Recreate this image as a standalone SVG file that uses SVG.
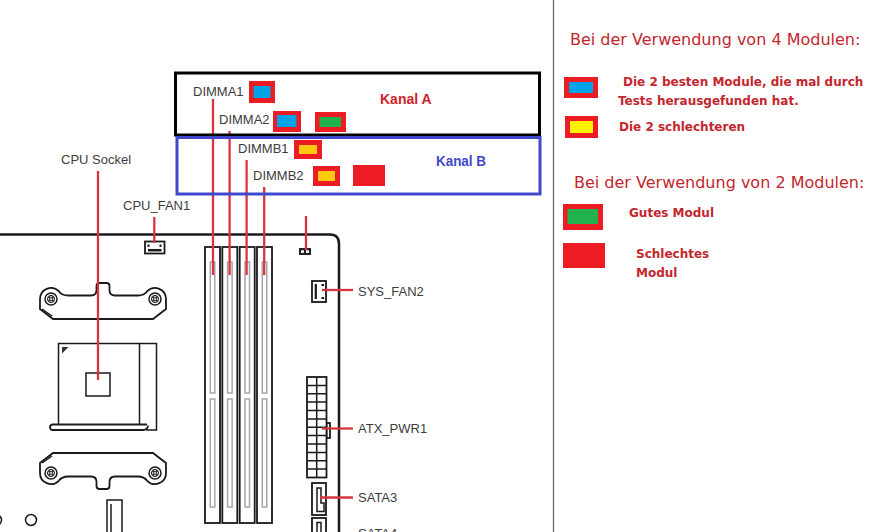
<svg xmlns="http://www.w3.org/2000/svg" width="880" height="532" viewBox="0 0 880 532">
<defs>
<style>
.bd{fill:none;stroke:#1a1a1a;stroke-width:2.5}
.ol{fill:#fff;stroke:#1a1a1a;stroke-width:1.8}
.thin{fill:none;stroke:#1a1a1a;stroke-width:1.5}
.slotin{fill:#fff;stroke:#a6a6a6;stroke-width:1.5}
.ld{fill:none;stroke:#d8343f;stroke-width:2.3}
.lbl{font-family:"Liberation Sans",Arial,sans-serif;font-size:13px;fill:#3c3c3c}
.kan{font-family:"Liberation Sans",Arial,sans-serif;font-size:14px;font-weight:bold}
.hd{font-family:"DejaVu Sans",sans-serif;font-size:16px;fill:#c4262e}
.bt{font-family:"DejaVu Sans",sans-serif;font-size:12px;font-weight:bold;fill:#c4262e}
.rb{fill:#ed1c24}
.bl{fill:#00a2e8}
.gr{fill:#22b14c}
.ye{fill:#ffc90e}
.ye2{fill:#fff200}
</style>
<g id="screw">
<circle r="6" fill="#fff" stroke="#1a1a1a" stroke-width="1.5"/>
<circle r="3.6" fill="none" stroke="#1a1a1a" stroke-width="1"/>
<path d="M-1.3,-3 V3 M1.3,-3 V3 M-3,-1.3 H3 M-3,1.3 H3" stroke="#1a1a1a" stroke-width="0.9"/>
</g>
<g id="bracket">
<path class="ol" d="M40,309 L40,299 A11,11 0 0 1 58.8,291.2 Q62,295.5 68,295.5 L91,295.5 Q96.5,295.5 96.5,290 L96.5,286 Q96.5,283 99.5,283 L106.5,283 Q109.5,283 109.5,286 L109.5,290 Q109.5,295.5 115,295.5 L138,295.5 Q144,295.5 147.2,291.2 A11,11 0 0 1 166,299 L166,309 L153,319 L53,319 Z"/>
<path class="thin" d="M42,309 L52,316" stroke-width="1"/>
<use href="#screw" x="51" y="299"/>
<use href="#screw" x="155" y="299"/>
</g>
</defs>
<rect width="880" height="532" fill="#fff"/>

<line x1="553.5" y1="0" x2="553.5" y2="532" stroke="#6a6a6a" stroke-width="1.3"/>

<g id="board">
<path class="bd" d="M0,234.5 H330 Q339,234.5 339,244 V532"/>
</g>

<g id="cpu-socket">
<use href="#bracket"/>
<use href="#bracket" transform="translate(0,772) scale(1,-1)"/>
<path class="thin" stroke-width="1.8" d="M58.5,425 V343.5 H156.5 V430 H146"/>
<line class="thin" x1="139.5" y1="343.5" x2="139.5" y2="425"/>
<path class="ol" stroke-width="1.5" d="M147,424.5 H53 Q50,424.5 50,427.2 Q50,430 53,430 H144 Q148,429 148,425.5"/>
<path d="M62,347 L68.5,347 L62,353.5 Z" fill="#333"/>
<rect class="thin" x="86" y="373" width="24" height="23" fill="#fff"/>
</g>

<g id="misc-bottom">
<circle cx="31" cy="520" r="5.5" class="thin"/>
<circle cx="-4" cy="520" r="5.5" class="thin"/>
<rect class="thin" x="107" y="500" width="15" height="40"/>
<line class="thin" x1="111" y1="504" x2="111" y2="532"/>
</g>

<g id="dimm-slots">
<rect class="ol" x="205" y="247" width="15" height="276"/>
<rect class="ol" x="222.3" y="247" width="15" height="276"/>
<rect class="ol" x="239.7" y="247" width="15" height="276"/>
<rect class="ol" x="257" y="247" width="15" height="276"/>
<rect class="slotin" x="210.3" y="262" width="4.5" height="131"/>
<rect class="slotin" x="210.3" y="399" width="4.5" height="108"/>
<rect class="slotin" x="227.6" y="262" width="4.5" height="131"/>
<rect class="slotin" x="227.6" y="399" width="4.5" height="108"/>
<rect class="slotin" x="245" y="262" width="4.5" height="131"/>
<rect class="slotin" x="245" y="399" width="4.5" height="108"/>
<rect class="slotin" x="262.3" y="262" width="4.5" height="131"/>
<rect class="slotin" x="262.3" y="399" width="4.5" height="108"/>
</g>

<g id="cpu-fan1">
<rect class="ol" x="145" y="241.5" width="19.5" height="12" stroke-width="2"/>
<line x1="148" y1="250.2" x2="161.5" y2="250.2" stroke="#1a1a1a" stroke-width="2.5"/>
<rect x="147.5" y="244.5" width="2" height="2.5" fill="#1a1a1a"/>
<rect x="159.5" y="244.5" width="2" height="2.5" fill="#1a1a1a"/>
</g>

<g id="jumper">
<rect x="299" y="248" width="12" height="7" fill="#222"/>
<rect x="301" y="250.3" width="3" height="2.6" fill="#fff"/>
<rect x="306" y="250.3" width="3" height="2.6" fill="#fff"/>
</g>

<g id="sys-fan2">
<rect class="ol" x="312" y="281" width="14" height="21" stroke-width="2"/>
<line x1="315.8" y1="284" x2="315.8" y2="299" stroke="#1a1a1a" stroke-width="2.2"/>
<rect x="321.5" y="284" width="2.5" height="2" fill="#1a1a1a"/>
<rect x="321.5" y="297" width="2.5" height="2" fill="#1a1a1a"/>
</g>

<g id="atx-pwr1">
<rect class="ol" x="326.5" y="423" width="3.5" height="15" stroke-width="1.5"/>
<rect class="ol" x="307" y="377" width="19.5" height="100.5" stroke-width="1.8"/>
<path class="thin" d="M316.7,377 V477.5 M307,385.4 H326.5 M307,393.75 H326.5 M307,402.1 H326.5 M307,410.5 H326.5 M307,418.9 H326.5 M307,427.25 H326.5 M307,435.6 H326.5 M307,444 H326.5 M307,452.4 H326.5 M307,460.75 H326.5 M307,469.1 H326.5"/>
</g>

<g id="sata3">
<rect class="ol" x="312" y="483" width="14" height="32" stroke-width="2"/>
<path class="thin" d="M317,488 H321 V503 H324 V511.5 H317 Z"/>
</g>
<g id="sata4">
<rect class="ol" x="312" y="518" width="14" height="30" stroke-width="2"/>
<path class="thin" d="M317,522.5 H321 V540 H317 Z"/>
</g>

<g id="connectors">
<line class="ld" x1="213" y1="99" x2="213" y2="275"/>
<line class="ld" x1="229.6" y1="131" x2="229.6" y2="275"/>
<line class="ld" x1="246.6" y1="160" x2="246.6" y2="275"/>
<line class="ld" x1="264.2" y1="187" x2="264.2" y2="275"/>
<line class="ld" x1="98" y1="171" x2="98" y2="380"/>
<line class="ld" x1="154.3" y1="217" x2="154.3" y2="243"/>
<line class="ld" x1="306" y1="216" x2="306" y2="250"/>
<line class="ld" x1="322" y1="290" x2="353" y2="290"/>
<line class="ld" x1="322" y1="428.5" x2="353" y2="428.5"/>
<line class="ld" x1="320" y1="497.5" x2="353" y2="497.5"/>
</g>

<g id="labels">
<text class="lbl" x="61" y="164">CPU Sockel</text>
<text class="lbl" x="123" y="210">CPU_FAN1</text>
<text class="lbl" x="193" y="96">DIMMA1</text>
<text class="lbl" x="219" y="124">DIMMA2</text>
<text class="lbl" x="238" y="153">DIMMB1</text>
<text class="lbl" x="253" y="180">DIMMB2</text>
<text class="lbl" x="358" y="296">SYS_FAN2</text>
<text class="lbl" x="358" y="433">ATX_PWR1</text>
<text class="lbl" x="358" y="502">SATA3</text>
<text class="lbl" x="358" y="537.5">SATA4</text>
</g>

<g id="kanal-a">
<rect x="175.5" y="73" width="364" height="62" fill="none" stroke="#000" stroke-width="3"/>
<text class="kan" x="380" y="104" fill="#d0232b">Kanal A</text>
</g>
<g id="kanal-b">
<rect x="177" y="137.5" width="363" height="56.5" fill="none" stroke="#3f48cc" stroke-width="3"/>
<text class="kan" x="436" y="166" fill="#3f48cc" textLength="50" lengthAdjust="spacingAndGlyphs">Kanal B</text>
</g>

<g id="modules">
<rect class="rb" x="249" y="81" width="26" height="22"/>
<rect class="bl" x="253.5" y="86" width="17" height="12"/>
<rect class="rb" x="273" y="111" width="28" height="21"/>
<rect class="bl" x="277" y="115" width="19.5" height="12"/>
<rect class="rb" x="315" y="112" width="31" height="20"/>
<rect class="gr" x="319.5" y="117" width="21.5" height="10"/>
<rect class="rb" x="294" y="140" width="28" height="19"/>
<rect class="ye" x="299" y="145" width="18" height="9"/>
<rect class="rb" x="313" y="166" width="27" height="20"/>
<rect class="ye" x="318" y="171" width="17" height="10"/>
<rect class="rb" x="353" y="165" width="32" height="21"/>
</g>

<g id="legend">
<text class="hd" x="570" y="45">Bei der Verwendung von 4 Modulen:</text>
<rect class="rb" x="564" y="77" width="34" height="21"/>
<rect class="bl" x="569" y="82" width="24" height="11"/>
<text class="bt" x="623" y="86">Die 2 besten Module, die mal durch</text>
<text class="bt" x="618" y="105">Tests herausgefunden hat.</text>
<rect class="rb" x="565" y="116" width="33" height="22"/>
<rect class="ye2" x="570" y="121" width="23" height="12"/>
<text class="bt" x="619" y="131">Die 2 schlechteren</text>
<text class="hd" x="574" y="188">Bei der Verwendung von 2 Modulen:</text>
<rect class="rb" x="563" y="204" width="40" height="26"/>
<rect class="gr" x="567.5" y="209" width="30.5" height="15"/>
<text class="bt" x="629" y="217">Gutes Modul</text>
<rect class="rb" x="563" y="243" width="42" height="25"/>
<text class="bt" x="636" y="258">Schlechtes</text>
<text class="bt" x="636" y="277">Modul</text>
</g>
</svg>
